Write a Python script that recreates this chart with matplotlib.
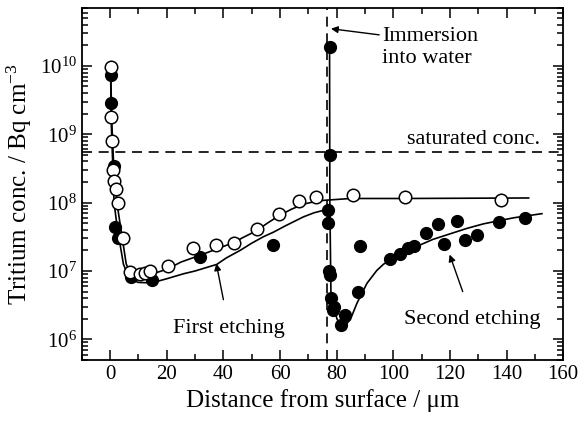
import matplotlib
matplotlib.use('Agg')
import matplotlib.pyplot as plt
from matplotlib.ticker import MultipleLocator, LogLocator, NullFormatter

plt.rcParams['font.family'] = ['Liberation Serif', 'DejaVu Serif']
plt.rcParams['mathtext.fontset'] = 'custom'
plt.rcParams['mathtext.rm'] = 'Liberation Serif'
plt.rcParams['mathtext.it'] = 'Liberation Serif:italic'

# measured points (open circles)
open_x = [0.2, 0.2, 0.6, 1.2, 1.5, 2.0, 2.9, 4.7, 7.1, 10.4, 12.4, 14.1, 20.3,
          29.4, 37.5, 43.6, 51.8, 59.8, 66.8, 72.8, 85.8, 104.0, 138.0]
open_y = [9.5e9, 1.8e9, 8e8, 3e8, 2.1e8, 1.6e8, 1.0e8, 3.0e7, 9.8e6, 9.0e6, 9.3e6,
          1.0e7, 1.2e7, 2.2e7, 2.4e7, 2.6e7, 4.1e7, 6.9e7, 1.05e8, 1.2e8, 1.3e8,
          1.2e8, 1.1e8]

# first etching (filled)
first_x = [0.2, 0.2, 1.4, 1.8, 2.9, 7.3, 14.7, 31.6, 57.5, 76.8, 76.8]
first_y = [7.4e9, 2.9e9, 3.4e8, 4.4e7, 3.0e7, 8.2e6, 7.4e6, 1.6e7, 2.4e7, 7.8e7, 5.0e7]

# second etching (filled)
second_x = [77.5, 77.5, 77.2, 77.5, 78.0, 78.9, 78.6, 81.5, 83.0, 87.4, 88.3, 98.7,
            102.5, 105.1, 107.2, 111.7, 115.7, 118.0, 122.5, 125.4, 129.6, 137.2, 146.4]
second_y = [1.9e10, 5.0e8, 1.0e7, 8.7e6, 4.0e6, 3.0e6, 2.7e6, 1.6e6, 2.3e6, 5.0e6,
            2.3e7, 1.5e7, 1.8e7, 2.2e7, 2.3e7, 3.6e7, 4.8e7, 2.5e7, 5.3e7, 2.8e7,
            3.4e7, 5.2e7, 5.9e7]

# fitted curves
upper_x = [0.2, 0.6, 1.2, 2.4, 3.7, 5.7, 7.5, 10.0, 14.0, 20.3, 25.0, 31.8, 37.0,
           43.6, 47.0, 51.8, 55.5, 59.8, 64.0, 68.3, 72.0, 75.4, 85.0, 104.0, 147.8]
upper_y = [9e9, 1.5e9, 4e8, 1e8, 4.4e7, 1.26e7, 9e6, 8.2e6, 8.8e6, 1.07e7, 1.35e7,
           1.7e7, 2.05e7, 2.6e7, 3.1e7, 3.9e7, 5.0e7, 6.5e7, 8.0e7, 9.5e7, 1.03e8,
           1.08e8, 1.15e8, 1.15e8, 1.17e8]

lower_x = [0.2, 0.4, 0.9, 1.4, 2.5, 4.7, 6.5, 8.5, 10.0, 14.7, 20.0, 25.9, 30.0,
           37.7, 41.0, 45.9, 50.0, 54.0, 57.7, 62.0, 68.3, 72.0, 76.8]
lower_y = [7.4e9, 1.5e9, 4e8, 1e8, 4.4e7, 1.26e7, 8.2e6, 7.2e6, 6.8e6, 6.7e6,
           7.7e6, 9.1e6, 1.0e7, 1.25e7, 1.55e7, 2.0e7, 2.55e7, 3.15e7, 3.7e7,
           4.6e7, 6.2e7, 7.1e7, 8e7]

second_fit_x = [77.5, 77.6, 78.0, 80.1, 81.9, 84.8, 87.2, 90.7, 94.2, 96.6, 102.5,
                108.4, 114.0, 120.1, 126.0, 131.9, 142.5, 152.5]
second_fit_y = [1.9e10, 1e8, 4.2e6, 2e6, 1.45e6, 1.93e6, 3.4e6, 6.6e6, 1.02e7,
                1.26e7, 1.8e7, 2.3e7, 2.9e7, 3.5e7, 4.2e7, 4.9e7, 6e7, 6.9e7]

immersion_x = 76.7
saturated_conc = 5.5e8

fig = plt.figure(figsize=(5.8, 4.29), dpi=100)
ax = fig.add_axes([0.141, 0.161, 0.830, 0.820])

ax.axvline(immersion_x, color='black', lw=1.2, ls=(0, (6, 4)))
ax.axhline(saturated_conc, color='black', lw=1.2, ls=(0, (6, 4)))

ax.plot(upper_x, upper_y, color='black', lw=1.2)
ax.plot(lower_x, lower_y, color='black', lw=1.2)
ax.plot(second_fit_x, second_fit_y, color='black', lw=1.2)

ax.plot(first_x, first_y, 'o', ms=8.5, mfc='black', mec='black')
ax.plot(second_x, second_y, 'o', ms=8.5, mfc='black', mec='black')
ax.plot(open_x, open_y, 'o', ms=9, mfc='white', mec='black', mew=1.1)

ax.set_yscale('log')
ax.set_xlim(-10, 160)
ax.set_ylim(5e5, 7e10)

ax.xaxis.set_major_locator(MultipleLocator(20))
ax.xaxis.set_minor_locator(MultipleLocator(10))
ax.yaxis.set_major_locator(LogLocator(base=10, numticks=10))
ax.yaxis.set_minor_locator(LogLocator(base=10, subs=range(2, 10), numticks=10))
ax.yaxis.set_minor_formatter(NullFormatter())

ax.tick_params(which='both', direction='in', top=True, right=True, labelsize=15,
               width=1.1)
ax.tick_params(which='major', length=7)
ax.tick_params(which='minor', length=4)
for s in ax.spines.values():
    s.set_linewidth(1.3)

ax.set_xlabel('Distance from surface / μm', fontsize=18)
ax.set_ylabel('Tritium conc. / Bq cm$^{-3}$', fontsize=18)

ax.text(104.8, 8.3e8, 'saturated conc.', fontsize=16, va='center', ha='left')
ax.annotate('Immersion\ninto water', xy=(78.0, 3.5e10), xytext=(96.0, 1.85e10),
            fontsize=16, va='center', ha='left', linespacing=1.25,
            arrowprops=dict(arrowstyle='-|>', color='black', lw=1.0,
                            shrinkA=0, shrinkB=0, mutation_scale=10,
                            relpos=(0.0, 0.8)))
ax.annotate('First etching', xy=(37.5, 1.29e7), xytext=(42, 1.45e6),
            fontsize=16, va='center', ha='center',
            arrowprops=dict(arrowstyle='-|>', color='black', lw=1.0,
                            shrinkA=12, shrinkB=0, mutation_scale=10))
ax.annotate('Second etching', xy=(119.9, 1.74e7), xytext=(128, 1.95e6),
            fontsize=16, va='center', ha='center',
            arrowprops=dict(arrowstyle='-|>', color='black', lw=1.0,
                            shrinkA=12, shrinkB=0, mutation_scale=10))

fig.savefig('out.png', dpi=100)
